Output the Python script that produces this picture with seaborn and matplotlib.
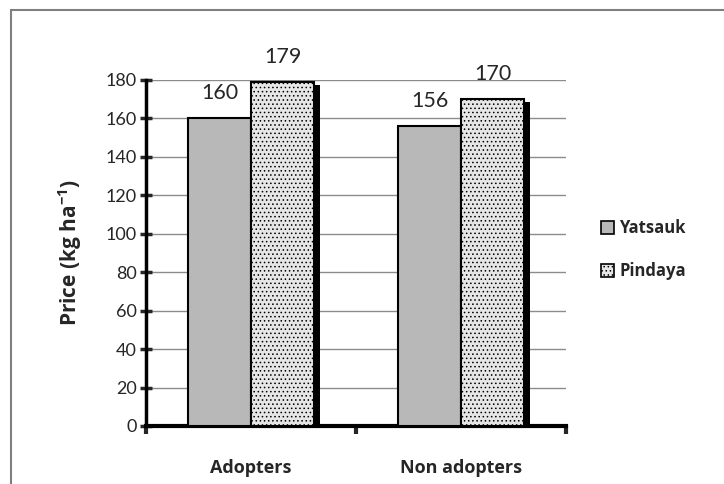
import matplotlib
matplotlib.use("Agg")
import matplotlib.pyplot as plt
import matplotlib.patches as mpatches
import pandas as pd
import seaborn as sns

groups = ["Adopters", "Non adopters"]
townships = ["Yatsauk", "Pindaya"]
yatsauk = [160, 156]
pindaya = [179, 170]
y_ticks = [0, 20, 40, 60, 80, 100, 120, 140, 160, 180]

df = pd.DataFrame({
    "group": groups * 2,
    "township": ["Yatsauk"] * 2 + ["Pindaya"] * 2,
    "price": yatsauk + pindaya,
})

sns.set_theme(style="white")
plt.rcParams["font.family"] = ["Lato", "DejaVu Sans"]
plt.rcParams["mathtext.fontset"] = "custom"
plt.rcParams["mathtext.bf"] = "Open Sans:bold"
plt.rcParams["mathtext.rm"] = "Open Sans"
plt.rcParams["hatch.color"] = "#a8a8a8"
plt.rcParams["hatch.linewidth"] = 0.6
BOLD = ["Open Sans", "DejaVu Sans"]

fig = plt.figure(figsize=(7.24, 4.84), dpi=100)
ax = fig.add_axes([146 / 724, 1 - 426 / 484, 420 / 724, 346 / 484])

palette = {"Yatsauk": "#b8b8b8", "Pindaya": "#e6e6e6"}
sns.barplot(data=df, x="group", y="price", hue="township", order=groups,
            hue_order=townships, palette=palette, width=0.6, gap=0.0,
            edgecolor="black", linewidth=1.5, saturation=1, ax=ax,
            legend=False, zorder=3)

# dotted texture on Pindaya bars and a drop shadow on every bar
for i, bar in enumerate(ax.patches):
    if i >= 2:
        bar.set_hatch("....")
    x, w, h = bar.get_x(), bar.get_width(), bar.get_height()
    shadow = mpatches.Rectangle((x + 0.03, 0), w, h - 1.5,
                                facecolor="black", edgecolor="none", zorder=2)
    ax.add_patch(shadow)

for bar in ax.patches[:4]:
    ax.annotate(f"{bar.get_height():.0f}",
                (bar.get_x() + bar.get_width() / 2, bar.get_height()),
                xytext=(0, 11), textcoords="offset points",
                ha="center", va="bottom", fontsize=15.5)

ax.set_xlim(-0.5, 1.5)
ax.set_ylim(0, 180)
ax.set_yticks(y_ticks)
ax.yaxis.grid(True, color="#8c8c8c", linewidth=1)
ax.set_axisbelow(True)
ax.tick_params(axis="y", direction="inout", length=9, width=2.5,
               labelsize=13, pad=2, left=True)
ax.set_xticks([0, 1])
ax.set_xticklabels(groups, fontsize=13, fontweight="bold", family=BOLD)
ax.tick_params(axis="x", length=0, pad=24)
ax.set_xticks([-0.5, 0.5, 1.5], minor=True)
ax.tick_params(axis="x", which="minor", direction="out", length=6,
               width=3, bottom=True)

for side in ["top", "right"]:
    ax.spines[side].set_visible(False)
ax.spines["left"].set_linewidth(2.5)
ax.spines["bottom"].set_linewidth(3)
ax.spines["left"].set_color("black")
ax.spines["bottom"].set_color("black")

ax.set_xlabel("")
ax.set_ylabel(r"Price (kg ha$^{\mathbf{-1}}$)", fontsize=15,
              fontweight="bold", family=BOLD, labelpad=16)

handles = [
    mpatches.Patch(facecolor="#b8b8b8", edgecolor="black", linewidth=1.2),
    mpatches.Patch(facecolor="#e6e6e6", edgecolor="black", linewidth=1.2,
                   hatch="...."),
]
leg = fig.legend(handles, townships, loc="center left",
                 bbox_to_anchor=(586 / 724, 1 - 250 / 484), frameon=False,
                 handlelength=0.8, handleheight=0.8, handletextpad=0.3,
                 labelspacing=1.5,
                 prop={"weight": "bold", "size": 12, "family": BOLD})

border = mpatches.Rectangle((11 / 724, -0.1), 1.2, 1 - 10 / 484 + 0.1,
                            transform=fig.transFigure, fill=False,
                            edgecolor="#7f7f7f", linewidth=1.5)
fig.patches.append(border)

fig.savefig("out.png", dpi=100)
